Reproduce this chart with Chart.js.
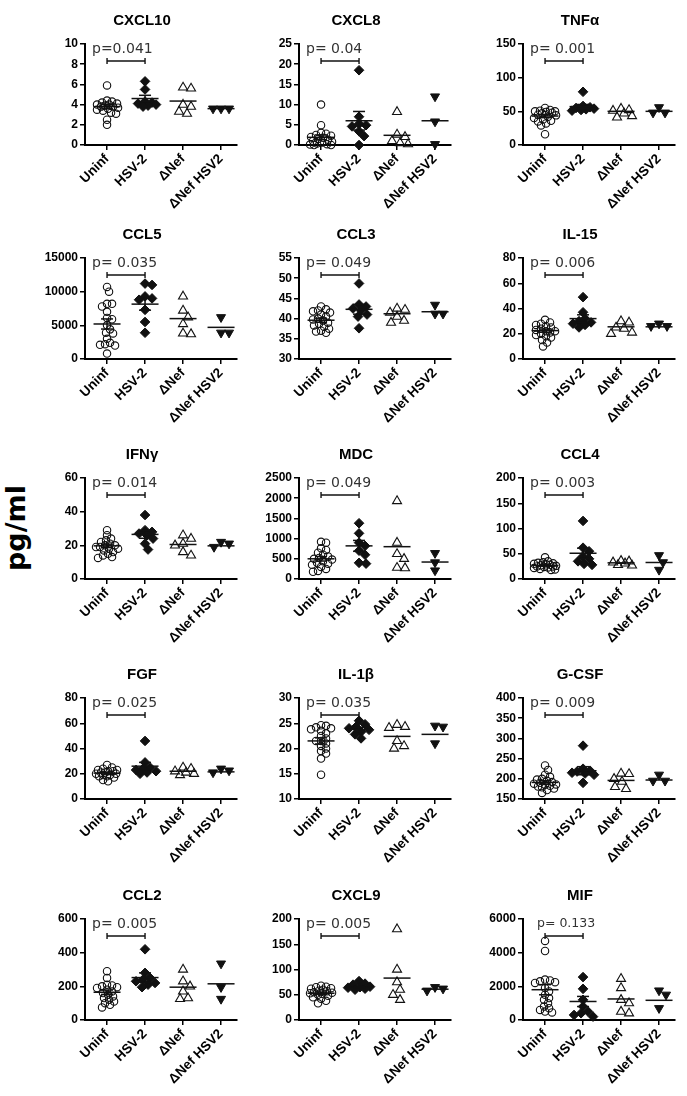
<!DOCTYPE html>
<html><head><meta charset="utf-8">
<script src="https://cdn.jsdelivr.net/npm/chart.js@4.4.1/dist/chart.umd.min.js"></script>
<style>
html,body{margin:0;padding:0;background:#fff;}
#wrap{position:relative;width:687px;height:1096px;overflow:hidden;background:#fff;}
#wrap canvas{position:absolute;}
#ylab{position:absolute;left:15px;top:528px;transform:translate(-50%,-50%) rotate(-90deg);font:bold 27px "DejaVu Sans";white-space:nowrap;color:#000;}
</style></head>
<body><div id="wrap"><div id="ylab">pg/ml</div></div>
<script>
// ---------- data ----------
const groups = ['Uninf', 'HSV-2', 'ΔNef', 'ΔNef HSV2'];
const titles = ['CXCL10', 'CXCL8', 'TNFα', 'CCL5', 'CCL3', 'IL-15', 'IFNγ', 'MDC', 'CCL4', 'FGF', 'IL-1β', 'G-CSF', 'CCL2', 'CXCL9', 'MIF'];
const pTexts = ['p=0.041', 'p= 0.04', 'p= 0.001', 'p= 0.035', 'p= 0.049', 'p= 0.006', 'p= 0.014', 'p= 0.049', 'p= 0.003', 'p= 0.025', 'p= 0.035', 'p= 0.009', 'p= 0.005', 'p= 0.005', 'p= 0.133'];
const yMins = [0, 0, 0, 0, 30, 0, 0, 0, 0, 0, 10, 150, 0, 0, 0];
const yMaxs = [10, 25, 150, 15000, 55, 80, 60, 2500, 200, 80, 30, 400, 600, 200, 6000];
const ySteps = [2, 5, 50, 5000, 5, 20, 20, 500, 50, 20, 5, 50, 200, 50, 2000];

const CXCL10 = [
  [5.9, 4.4, 4.3, 4.2, 4.1, 4.0, 4.0, 3.9, 3.8, 3.8, 3.7, 3.6, 3.5, 3.4, 3.2, 3.1, 2.5, 2.0],
  [6.3, 5.5, 4.3, 4.2, 4.1, 4.0, 3.9, 3.8],
  [5.7, 5.6, 4.0, 3.8, 3.3, 3.1],
  [3.6, 3.6, 3.6]];
const CXCL8 = [
  [10.0, 4.9, 3.0, 2.8, 2.5, 2.3, 2.0, 1.8, 1.5, 1.3, 1.0, 0.8, 0.6, 0.4, 0.2, 0.1, 0.0, 0.0],
  [18.5, 7.0, 5.2, 4.9, 4.6, 3.4, 2.2, 0.0],
  [8.2, 2.6, 2.0, 1.0, 0.5, 0.2],
  [12.0, 5.8, 0.2]];
const TNFa = [
  [55, 52, 51, 50, 50, 49, 48, 47, 45, 44, 42, 40, 38, 36, 35, 32, 29, 16],
  [79, 58, 56, 55, 54, 53, 52, 51],
  [54, 52, 51, 47, 43, 41],
  [56, 48, 48]];
const CCL5 = [
  [10700, 10000, 8200, 8200, 7800, 7000, 6100, 5900, 5000, 4400, 3900, 3800, 3000, 2400, 2200, 2100, 2000, 800],
  [11200, 11000, 9300, 9000, 8800, 7300, 5500, 3900],
  [9300, 7200, 6200, 5200, 3800, 3700],
  [6200, 3900, 3900]];
const CCL3 = [
  [43.0, 42.3, 42.0, 41.8, 41.5, 41.0, 40.5, 40.0, 39.8, 39.5, 39.0, 38.7, 38.3, 38.0, 37.5, 37.0, 36.8, 36.5],
  [48.7, 43.5, 43.0, 42.5, 42.0, 41.0, 40.5, 37.6],
  [42.5, 42.2, 41.5, 40.5, 39.5, 39.0],
  [43.4, 41.2, 41.2]];
const IL15 = [
  [31, 29, 28, 27, 26, 25, 24, 23, 22, 22, 21, 20, 19, 18, 17, 15, 13, 10],
  [49, 37, 32, 30, 29, 28, 27, 25],
  [30, 29, 25, 24, 21, 20],
  [28, 26, 26]];
const IFNg = [
  [29, 26, 24, 23, 22, 21, 20, 20, 19, 19, 18, 18, 17, 16, 15, 14, 13, 12.5],
  [38, 29, 28, 27, 26, 24, 21, 17.5],
  [26, 24, 21, 20, 16, 14],
  [22, 19, 21]];
const MDC = [
  [920, 900, 760, 720, 650, 600, 560, 520, 500, 480, 440, 400, 380, 350, 300, 250, 200, 180],
  [1380, 1130, 900, 820, 700, 600, 400, 380],
  [1930, 900, 620, 500, 280, 270],
  [640, 410, 210]];
const CCL4 = [
  [43, 35, 33, 32, 31, 30, 29, 28, 27, 26, 25, 25, 24, 23, 22, 20, 19, 18],
  [115, 62, 55, 45, 40, 35, 30, 28],
  [36, 35, 33, 31, 28, 27],
  [47, 33, 18]];
const FGF = [
  [27, 25, 24, 23, 23, 22, 22, 21, 21, 20, 20, 19, 19, 18, 18, 17, 15, 14],
  [46, 29, 25, 24, 23, 22, 21, 20],
  [25, 24, 22, 21, 20, 19],
  [24, 21, 22.5]];
const IL1b = [
  [24.6, 24.5, 24.2, 24.0, 23.8, 23.5, 23.0, 22.5, 22.0, 21.5, 21.5, 21.0, 20.5, 20.0, 19.5, 19.0, 18.0, 14.8],
  [25.5, 24.8, 24.3, 24.0, 23.7, 23.3, 22.8, 22.0],
  [24.7, 24.3, 24.1, 21.5, 20.5, 20.0],
  [24.5, 24.3, 21.0]];
const GCSF = [
  [233, 222, 210, 205, 200, 198, 195, 192, 190, 188, 186, 185, 183, 181, 179, 176, 172, 165],
  [282, 225, 220, 218, 215, 213, 210, 190],
  [213, 212, 200, 193, 180, 175],
  [210, 195, 195]];
const CCL2 = [
  [290, 250, 210, 205, 200, 195, 190, 180, 170, 160, 150, 140, 130, 120, 110, 100, 90, 75],
  [420, 280, 250, 240, 230, 220, 210, 195],
  [300, 230, 200, 170, 130, 125],
  [335, 195, 125]];
const CXCL9 = [
  [68, 66, 65, 63, 62, 60, 58, 57, 55, 54, 53, 52, 50, 48, 45, 42, 38, 33],
  [77, 72, 70, 66, 65, 64, 62, 60],
  [180, 100, 75, 60, 50, 40],
  [65, 62, 58]];
const MIF = [
  [4700, 4100, 2400, 2350, 2300, 2250, 2200, 1900, 1700, 1500, 1300, 1200, 1000, 800, 700, 600, 500, 450],
  [2550, 1850, 1200, 800, 500, 400, 300, 200],
  [2450, 1900, 1200, 1000, 500, 400],
  [1750, 1500, 700]];

// group means and SEM as drawn in the figure (SEM bars only on Uninf / HSV-2)
const means = [
  [3.8, 4.6, 4.35, 3.6], [1.9, 6.0, 2.4, 6.0], [43, 57, 50, 50],
  [5200, 8150, 6000, 4700], [39.6, 42.3, 41.2, 41.7], [22.5, 32, 25.5, 25.5],
  [19.7, 26.5, 20.5, 19.7], [500, 820, 800, 420], [27, 51, 32, 32.7],
  [20.5, 26, 22, 21.5], [21.5, 23.8, 22.4, 22.8], [191, 220, 196, 197],
  [165, 252, 195, 215], [53, 65, 83, 61], [1800, 1100, 1250, 1170]];
const sems = [
  [0.22, 0.32, 0, 0], [0.6, 2.3, 0, 0], [2.4, 3.2, 0, 0],
  [750, 900, 0, 0], [0.5, 1.2, 0, 0], [1.3, 3.0, 0, 0],
  [1.0, 2.3, 0, 0], [55, 135, 0, 0], [1.6, 10, 0, 0],
  [0.8, 3.0, 0, 0], [0.6, 0.4, 0, 0], [4.3, 10, 0, 0],
  [13, 28, 0, 0], [2.3, 2.0, 0, 0], [300, 300, 0, 0]];

const panels = [CXCL10, CXCL8, TNFa, CCL5, CCL3, IL15, IFNg, MDC, CCL4, FGF, IL1b, GCSF, CCL2, CXCL9, MIF];

// ---------- layout / style ----------
const colAxisX = [85, 299, 523];
const rowTop = [44, 258, 478, 698, 919];
const PLOT_W = 152, PLOT_H = 101, YAXIS_W = 60, RIGHT_W = 22, TOP_H = 44, XAXIS_H = 70;
const X_MIN = -0.58, X_MAX = 3.42;
const UNIT_PX = PLOT_W / (X_MAX - X_MIN);

const markers = [
  {pointStyle: 'circle', pointRadius: 3.7, pointBorderWidth: 1.1, pointBackgroundColor: 'rgba(0,0,0,0)', pointBorderColor: '#111', pointRotation: 0, diam: 5},
  {pointStyle: 'rectRot', pointRadius: 4.8, pointBorderWidth: 1, pointBackgroundColor: '#111', pointBorderColor: '#111', pointRotation: 0, diam: 6.5},
  {pointStyle: 'triangle', pointRadius: 5.2, pointBorderWidth: 1.1, pointBackgroundColor: 'rgba(0,0,0,0)', pointBorderColor: '#111', pointRotation: 0, diam: 8},
  {pointStyle: 'triangle', pointRadius: 5.2, pointBorderWidth: 1, pointBackgroundColor: '#111', pointBorderColor: '#111', pointRotation: 180, diam: 8}
];

// deterministic beeswarm placement (pixels), so overlapping values spread sideways
function swarm(vals, pxPerY, diam, maxHalf) {
  const order = vals.map((v, i) => i).sort((a, b) => vals[b] - vals[a]);
  const placed = [];
  const out = new Array(vals.length).fill(0);
  for (const i of order) {
    const y = vals[i] * pxPerY;
    let best = 0, bestGap = -1;
    for (let k = 0; k <= maxHalf; k++) {
      const cands = k === 0 ? [0] : [k, -k];
      let done = false;
      for (const dx of cands) {
        let gap = Infinity;
        for (const p of placed) gap = Math.min(gap, Math.hypot(p.x - dx, p.y - y));
        if (gap >= diam) { best = dx; bestGap = gap; done = true; break; }
        if (gap > bestGap) { bestGap = gap; best = dx; }
      }
      if (done) break;
    }
    placed.push({x: best, y});
    out[i] = best;
  }
  return out;
}

const extras = {
  id: 'extras',
  afterDatasetsDraw(chart, args, o) {
    const {ctx, chartArea, scales: {x, y}} = chart;
    const seg = (a, b, c, d) => { ctx.beginPath(); ctx.moveTo(a, b); ctx.lineTo(c, d); ctx.stroke(); };
    ctx.save();
    ctx.strokeStyle = '#111';
    ctx.lineWidth = 1.5;
    o.means.forEach((m, i) => {
      const cx = x.getPixelForValue(i), my = y.getPixelForValue(m);
      seg(cx - 13.5, my, cx + 13.5, my);
      if (o.sems[i] > 0) {
        const t = y.getPixelForValue(m + o.sems[i]), b = y.getPixelForValue(m - o.sems[i]);
        seg(cx, t, cx, b);
        seg(cx - 6, t, cx + 6, t);
        seg(cx - 6, b, cx + 6, b);
      }
    });
    const by = chartArea.top + 17;
    const x0 = x.getPixelForValue(0), x1 = x.getPixelForValue(1);
    ctx.lineWidth = 1.4;
    seg(x0, by, x1, by);
    seg(x0, by - 3, x0, by + 3);
    seg(x1, by - 3, x1, by + 3);
    ctx.fillStyle = '#333';
    ctx.font = o.pFont;
    ctx.textBaseline = 'middle';
    ctx.textAlign = 'left';
    ctx.fillText(o.pText, chartArea.left + o.pDx, chartArea.top + 5);
    ctx.restore();
  }
};

const wrap = document.getElementById('wrap');
panels.forEach((pd, p) => {
  const col = p % 3, row = Math.floor(p / 3);
  const W = YAXIS_W + PLOT_W + RIGHT_W, H = TOP_H + PLOT_H + XAXIS_H;
  const cv = document.createElement('canvas');
  cv.width = W; cv.height = H;
  cv.style.width = W + 'px'; cv.style.height = H + 'px';
  cv.style.left = (colAxisX[col] - YAXIS_W) + 'px';
  cv.style.top = (rowTop[row] - TOP_H) + 'px';
  wrap.appendChild(cv);
  const pxPerY = PLOT_H / (yMaxs[p] - yMins[p]);
  const datasets = pd.map((vals, g) => {
    const m = markers[g];
    const off = swarm(vals.map(v => v - yMins[p]), pxPerY, m.diam, 11);
    return {
      label: groups[g],
      data: vals.map((v, k) => ({x: g + off[k] / UNIT_PX, y: v})),
      pointStyle: m.pointStyle, pointRadius: m.pointRadius, pointBorderWidth: m.pointBorderWidth,
      pointBackgroundColor: m.pointBackgroundColor, pointBorderColor: m.pointBorderColor,
      pointRotation: m.pointRotation, pointHoverRadius: m.pointRadius, clip: false
    };
  });
  new Chart(cv, {
    type: 'scatter',
    data: {datasets},
    options: {
      responsive: false, animation: false, devicePixelRatio: 1, events: [],
      layout: {padding: 0},
      plugins: {
        legend: {display: false}, tooltip: {enabled: false},
        title: {display: true, text: titles[p], color: '#000',
          font: {family: 'Liberation Sans', size: 15, weight: 'bold', lineHeight: 1.2},
          padding: {top: 12, bottom: 14}},
        extras: {means: means[p], sems: sems[p], pText: pTexts[p],
          pFont: p === 14 ? '12.5px "DejaVu Sans"' : '14px "DejaVu Sans"', pDx: p === 14 ? 14 : 7}
      },
      scales: {
        x: {
          type: 'linear', min: X_MIN, max: X_MAX,
          afterBuildTicks: s => { s.ticks = groups.map((g, i) => ({value: i})); },
          afterFit: s => { s.height = XAXIS_H; },
          grid: {display: true, drawOnChartArea: false, drawTicks: true, tickLength: 5, color: '#000', lineWidth: 1.5},
          border: {display: true, color: '#000', width: 2},
          ticks: {autoSkip: false, minRotation: 45, maxRotation: 45, padding: 1, color: '#000',
            font: {family: 'Liberation Sans', size: 13.5, weight: 'bold'},
            callback: v => groups[v]}
        },
        y: {
          type: 'linear', min: yMins[p], max: yMaxs[p],
          afterFit: s => { s.width = YAXIS_W; },
          grid: {display: true, drawOnChartArea: false, drawTicks: true, tickLength: 5, color: '#000', lineWidth: 1.5},
          border: {display: true, color: '#000', width: 2},
          ticks: {stepSize: ySteps[p], padding: 2, color: '#000',
            font: {family: 'Liberation Sans', size: 12, weight: 'bold'},
            callback: v => String(v)}
        },
        yRight: {
          type: 'linear', position: 'right', display: true,
          afterFit: s => { s.width = RIGHT_W; },
          grid: {display: false}, border: {display: false}, ticks: {display: false}
        }
      }
    },
    plugins: [extras]
  });
});
</script>
</body></html>
